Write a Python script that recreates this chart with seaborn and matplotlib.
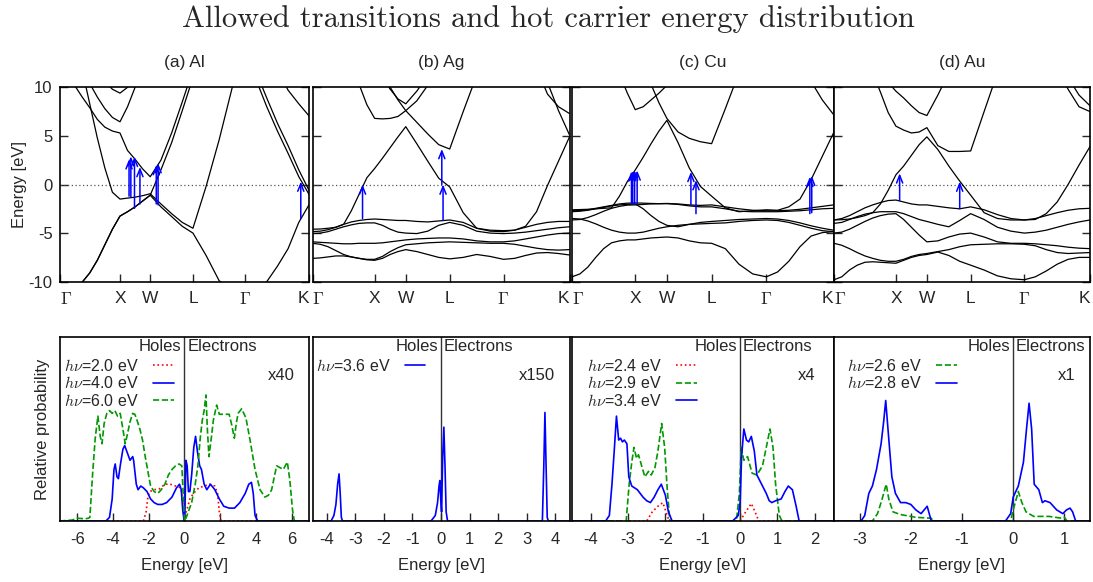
import matplotlib
matplotlib.use("Agg")
import matplotlib.pyplot as plt
import numpy as np
import pandas as pd
import seaborn as sns

sns.set_style("ticks")
plt.rcParams["font.family"] = ["Liberation Sans", "DejaVu Sans"]
plt.rcParams["mathtext.fontset"] = "cm"
plt.rcParams["axes.unicode_minus"] = False

# ---------------------------------------------------------------- k path
# Gamma-X-W-L-Gamma-K path length in units of 2*pi/a
k_path = [0.0, 0.125, 0.25, 0.375, 0.5, 0.625, 0.75, 0.875, 1.0,
          1.125, 1.25, 1.375, 1.5,
          1.677, 1.854, 2.03, 2.207,
          2.424, 2.64, 2.857, 3.073,
          3.25, 3.427, 3.604, 3.78, 3.957, 4.134]
sym_pos = [0.0, 1.0, 1.5, 2.207, 3.073, 4.134]
sym_labels = [r"$\Gamma$", "X", "W", "L", r"$\Gamma$", "K"]

# ---------------------------------------------------------------- Al bands (eV)
al_b1 = [-11.2, -11.05, -10.7, -10.05, -9.1, -7.8, -6.2, -4.6, -3.25,
         -2.8, -2.3, -1.7, -1.1, -2.3, -3.3, -4.3, -5.0,
         -7.3, -9.9, -10.9, -11.2, -10.9, -10.0, -8.4, -6.6, -3.9, -2.0]
al_b2 = [25, 20, 15.5, 11.8, 8.3, 4.8, 1.7, -0.8, -1.5,
         -1.4, -1.3, -1.15, -0.95, -2.0, -3.0, -3.9, -4.5,
         -0.2, 4.6, 10.0, 16.3, 16.3, 15, 14, 13, 12.5, 12]
al_b3 = [12.5, 11.6, 10.2, 9.0, 7.9, 6.7, 5.9, 5.5, 5.3,
         3.5, 2.6, 1.6, 0.8, 2.5, 5.3, 8.5, 11.8,
         13.5, 15.5, 16.3, 16.3, 10.8, 8.0, 5.5, 3.2, 0.8, -1.1]
al_b4 = [16.3, 15, 13.5, 12, 10.4, 9.0, 7.8, 6.9, 6.45,
         8.0, 10.0, 12, 13, 13, 13.5, 14, 14,
         14.5, 15, 16, 16.3, 15, 13.5, 11.8, 9.7, 8.3, 7.0]
al_b5 = [16.3, 15.5, 14.5, 13.5, 12.5, 11.5, 10.6, 9.8, 9.4,
         10.0, 11.2, 12.5, 13.5, 14, 14.5, 15, 15,
         15.5, 16, 16.3, 16.3, 11.6, 8.9, 6.3, 4.0, 1.5, -0.7]
al_b6 = [-11.2, -11.05, -10.7, -10.05, -9.1, -7.8, -6.2, -4.6, -3.25,
         -2.8, -2.3, -1.7, -1.1, 1.5, 4.3, 7.6, 11.0,
         13, 15, 16, 16.3, 16.3, 16, 15, 14.5, 14, 13.5]

# ---------------------------------------------------------------- Ag bands (eV)
ag_s = [-4.6, -4.58, -4.5, -4.4, -4.1, -2.7, -1.0, 0.7, 1.65,
        2.7, 3.8, 4.9, 5.95, 4.2, 2.4, 0.65, -0.25,
        -2.9, -4.5, -4.7, -4.75, -4.7, -4.3, -2.8, -0.1, 2.4, 4.9]
ag_d1 = [-4.85, -4.8, -4.65, -4.4, -4.1, -3.85, -3.7, -3.6, -3.55,
         -3.6, -3.65, -3.7, -3.7, -3.8, -3.85, -3.75, -3.65,
         -3.9, -4.5, -4.8, -4.85, -4.7, -4.4, -4.1, -3.9, -3.8, -3.8]
ag_d2 = [-5.05, -5.0, -4.85, -4.6, -4.35, -4.15, -4.0, -3.95, -3.95,
         -4.2, -4.6, -4.9, -5.0, -5.05, -4.8, -4.2, -3.9,
         -4.2, -4.8, -5.0, -5.05, -5.0, -4.9, -4.75, -4.6, -4.45, -4.35]
ag_d3 = [-5.9, -5.95, -6.0, -6.05, -6.1, -6.1, -6.05, -6.05, -6.05,
         -6.0, -5.9, -5.8, -5.7, -5.6, -5.55, -5.5, -5.5,
         -5.6, -5.8, -5.9, -5.9, -5.8, -5.6, -5.4, -5.2, -5.05, -5.0]
ag_d4 = [-6.05, -6.15, -6.4, -6.8, -7.2, -7.45, -7.6, -7.7, -7.7,
         -7.4, -6.9, -6.5, -6.2, -6.1, -6.0, -5.95, -5.9,
         -5.95, -6.0, -6.05, -6.05, -6.15, -6.35, -6.55, -6.7, -6.75, -6.7]
ag_d5 = [-7.6, -7.55, -7.45, -7.35, -7.35, -7.45, -7.6, -7.75, -7.8,
         -7.6, -7.2, -6.9, -6.7, -6.9, -7.2, -7.5, -7.65,
         -7.5, -7.2, -7.4, -7.7, -7.6, -7.3, -7.05, -7.0, -7.1, -7.25]
ag_u1 = [20, 19.5, 19, 18.5, 18, 17, 16, 15, 14,
         11.8, 10.0, 8.7, 7.6, 6.4, 5.2, 4.1, 3.65,
         7.5, 11.2, 14, 16, 16, 16, 16, 16, 16, 16]
ag_u2 = [16, 15.8, 15.5, 15, 14, 12.5, 10.3, 8.2, 6.8,
         6.75, 6.8, 7.0, 7.6, 8.6, 10.2, 12, 13,
         14, 15, 16, 16, 16, 16, 16, 16, 16, 16]
ag_u3 = [16, 16, 16, 16, 16, 15, 14, 13, 12,
         11, 9.8, 8.8, 8.3, 9.6, 11.2, 12.5, 13,
         14, 15, 16, 16, 16, 16, 16, 16, 16, 16]
ag_u4 = [16] * 21 + [16, 14.5, 12, 9.3, 8.0, 7.3]
ag_u5 = [16] * 21 + [16, 15, 13, 10.5, 7.6, 5.1]

# ---------------------------------------------------------------- Cu bands (eV)
cu_s = [-2.6, -2.58, -2.55, -2.5, -2.45, -2.4, -1.2, 0.3, 1.5,
        2.8, 4.2, 5.5, 6.6, 4.3, 1.7, -0.2, -1.2,
        -2.4, -2.8, -2.7, -2.6, -2.65, -2.3, -1.5, 0.5, 2.9, 5.3]
cu_low = [-9.5, -9.2, -8.5, -7.5, -6.6, -6.0, -5.8, -5.7, -5.7,
          -5.6, -5.5, -5.45, -5.4, -5.5, -5.8, -6.0, -6.05,
          -6.6, -8.2, -9.2, -9.5, -9.0, -7.9, -6.4, -5.3, -4.95, -4.85]
cu_d1 = [-2.7, -2.68, -2.6, -2.45, -2.3, -2.15, -2.0, -1.92, -1.9,
         -1.92, -1.95, -1.97, -1.95, -2.0, -2.1, -2.15, -2.1,
         -2.3, -2.5, -2.65, -2.7, -2.7, -2.65, -2.55, -2.4, -2.25, -2.1]
cu_d2 = [-2.8, -2.75, -2.65, -2.5, -2.35, -2.2, -2.1, -2.05, -2.0,
         -2.5, -3.2, -3.8, -4.2, -4.35, -4.1, -3.9, -3.8,
         -3.7, -3.6, -3.55, -3.5, -3.55, -3.7, -3.95, -4.25, -4.5, -4.7]
cu_d3 = [-3.5, -3.55, -3.75, -4.05, -4.4, -4.7, -4.9, -5.0, -5.0,
         -4.9, -4.7, -4.5, -4.35, -4.2, -4.1, -4.05, -4.0,
         -3.95, -3.8, -3.7, -3.65, -3.7, -3.9, -4.2, -4.5, -4.75, -4.85]
cu_d4 = [-3.65, -3.6, -3.4, -3.1, -2.75, -2.45, -2.25, -2.12, -2.1,
         -2.05, -2.0, -1.98, -1.97, -2.05, -2.2, -2.3, -2.3,
         -2.5, -2.75, -2.8, -2.8, -2.8, -2.75, -2.7, -2.6, -2.5, -2.45]
cu_u1 = [16, 15.8, 15.5, 15, 14.2, 13, 11.4, 9.4, 7.7,
         8.0, 8.7, 9.4, 10.2, 11.5, 12.5, 13.5, 14,
         15, 15.5, 16, 16, 16, 16, 16, 16, 16, 16]
cu_u2 = [16, 16, 16, 16, 16, 16, 15.5, 15, 14.5,
         12.3, 10.3, 8.4, 6.8, 5.4, 4.75, 4.4, 4.2,
         7.8, 11.5, 14, 16, 16, 16, 16, 16, 16, 16]
cu_u3 = [16] * 21 + [16, 16, 13.5, 10.6, 8.7, 7.2]

# ---------------------------------------------------------------- Au bands (eV)
au_s = [-3.65, -3.62, -3.55, -3.4, -3.2, -2.9, -2.0, -0.6, 1.0,
        1.9, 3.0, 4.1, 4.9, 3.6, 1.9, 0.35, -1.1,
        -2.9, -3.5, -3.65, -3.65, -3.6, -3.0, -1.8, 0.0, 2.0, 3.9]
au_low = [-9.8, -9.5, -8.8, -8.3, -8.0, -7.95, -8.0, -8.05, -8.1,
          -7.8, -7.5, -7.3, -7.2, -6.95, -7.3, -7.9, -8.3,
          -8.8, -9.4, -9.7, -9.8, -9.5, -8.9, -8.2, -7.7, -7.5, -7.5]
au_d1 = [-3.65, -3.5, -3.2, -2.8, -2.4, -2.1, -1.85, -1.65, -1.6,
         -1.8, -2.0, -2.1, -2.1, -2.25, -2.4, -2.5, -2.3,
         -2.6, -3.1, -3.5, -3.65, -3.5, -3.2, -2.9, -2.65, -2.5, -2.45]
au_d2 = [-4.0, -3.9, -3.6, -3.3, -3.05, -2.9, -2.8, -2.8, -2.8,
         -3.0, -3.3, -3.6, -3.8, -4.1, -4.35, -3.7, -3.0,
         -3.6, -4.4, -4.8, -5.0, -4.9, -4.7, -4.4, -4.1, -3.85, -3.65]
au_d3 = [-5.0, -4.9, -4.6, -4.2, -3.8, -3.45, -3.2, -3.05, -3.0,
         -3.6, -4.4, -5.2, -5.9, -5.8, -5.4, -5.1, -5.0,
         -5.4, -5.9, -6.05, -6.05, -6.1, -6.2, -6.3, -6.45, -6.55, -6.6]
au_d4 = [-6.05, -6.25, -6.6, -7.0, -7.35, -7.6, -7.8, -7.9, -7.9,
         -7.7, -7.4, -7.2, -7.1, -6.9, -6.7, -6.4, -6.2,
         -6.15, -6.1, -6.1, -6.15, -6.3, -6.7, -7.0, -7.1, -7.05, -7.0]
au_u1 = [16, 16, 16, 16, 15, 11.5, 9.5, 7.4, 6.0,
         5.6, 5.3, 5.4, 5.85, 4.0, 3.4, 3.4, 3.45,
         7.5, 11.5, 14, 16, 16, 16, 16, 16, 16, 16]
au_u2 = [16, 16, 16, 16, 16, 14, 12, 10.5, 9.6,
         8.9, 8.1, 7.4, 7.1, 9.2, 11.5, 13, 14,
         15, 16, 16, 16, 16, 16, 16, 16, 16, 16]
au_u3 = [16] * 21 + [16, 14, 12, 9.8, 8.0, 7.5]
au_u4 = [16] * 21 + [16, 15, 13.5, 11.0, 9.2, 8.1]

# ---------------------------------------------------------------- allowed transitions (k, E_from, E_to)
al_arrow_k = [1.15, 1.18, 1.24, 1.33, 1.60, 1.63, 3.99]
al_arrow_from = [-1.2, -1.25, -2.45, -2.0, -2.0, -2.1, -3.5]
al_arrow_to = [2.6, 2.9, 2.85, 1.8, 2.0, 2.2, 0.3]
ag_arrow_k = [0.805, 2.10, 2.08]
ag_arrow_from = [-3.5, -3.7, 0.0]
ag_arrow_to = [0.0, 0.0, 3.65]
cu_arrow_k = [0.94, 0.96, 0.99, 1.03, 1.88, 1.96, 3.76, 3.79]
cu_arrow_from = [-1.95, -1.95, -1.95, -1.95, -2.1, -3.0, -3.0, -2.9]
cu_arrow_to = [1.35, 1.4, 1.45, 1.45, 1.3, 0.45, 0.8, 0.9]
au_arrow_k = [1.06, 2.03]
au_arrow_from = [-1.65, -2.5]
au_arrow_to = [1.15, 0.3]

# ---------------------------------------------------------------- hot carrier distributions
al_e_20 = [-7, -2.3, -2.15, -2.05, -1.95, -1.7, -1.4, -1.1, -0.8, -0.5, -0.2, -0.1, 0.0,
           0.1, 0.3, 0.5, 0.8, 1.1, 1.4, 1.7, 1.85, 1.95, 2.05, 7]
al_p_20 = [0, 0, 0.05, 0.13, 0.16, 0.17, 0.175, 0.2, 0.2, 0.19, 0.18, 0.1, 0.0,
           0.05, 0.12, 0.15, 0.18, 0.19, 0.2, 0.19, 0.15, 0.05, 0.0, 0]
al_e_40 = [-7, -4.4, -4.2, -4.05, -3.95, -3.88, -3.78, -3.7, -3.6, -3.45, -3.35, -3.2,
           -3.05, -2.9, -2.85, -2.7, -2.6, -2.45, -2.3, -2.1, -1.9, -1.7, -1.5, -1.25,
           -1.0, -0.7, -0.45, -0.28, -0.18, -0.1, -0.02, 0.02, 0.08, 0.15, 0.22, 0.3,
           0.4, 0.52, 0.62, 0.72, 0.85, 0.95, 1.1, 1.25, 1.45, 1.7, 1.95, 2.2, 2.5,
           2.8, 3.1, 3.4, 3.6, 3.75, 3.85, 3.95, 4.1, 7]
al_p_40 = [0, 0, 0.02, 0.12, 0.28, 0.31, 0.24, 0.23, 0.3, 0.39, 0.41, 0.37,
           0.33, 0.35, 0.33, 0.2, 0.17, 0.19, 0.18, 0.16, 0.12, 0.1, 0.09, 0.09,
           0.1, 0.13, 0.18, 0.2, 0.17, 0.06, 0.0, 0.03, 0.33, 0.3, 0.16, 0.16,
           0.25, 0.4, 0.46, 0.38, 0.3, 0.28, 0.2, 0.17, 0.2, 0.17, 0.12, 0.08, 0.07,
           0.07, 0.1, 0.15, 0.2, 0.21, 0.15, 0.03, 0.0, 0]
al_e_60 = [-7, -6.3, -6.0, -5.57, -5.38, -5.3, -5.15, -5.0, -4.85, -4.72, -4.62, -4.5,
           -4.35, -4.2, -4.05, -3.9, -3.75, -3.6, -3.45, -3.32, -3.2, -3.05, -2.9,
           -2.78, -2.65, -2.5, -2.35, -2.2, -2.05, -1.9, -1.7, -1.5, -1.3, -1.1, -0.9,
           -0.7, -0.5, -0.3, -0.15, -0.05, 0.0, 0.1, 0.4, 0.6, 0.75, 0.88, 1.0, 1.1,
           1.2, 1.28, 1.37, 1.5, 1.62, 1.8, 1.95, 2.2, 2.5, 2.65, 2.79, 2.9, 3.0,
           3.2, 3.44, 3.67, 3.95, 4.23, 4.5, 4.7, 4.88, 5.05, 5.16, 5.35, 5.53, 5.76,
           5.9, 6.05, 6.15, 7]
al_p_60 = [0, 0.005, 0.015, 0.012, 0.015, 0.02, 0.25, 0.45, 0.57, 0.46, 0.42, 0.53,
           0.585, 0.6, 0.585, 0.6, 0.57, 0.585, 0.5, 0.42, 0.47, 0.54, 0.585,
           0.58, 0.545, 0.5, 0.44, 0.35, 0.27, 0.19, 0.16, 0.15, 0.17, 0.2, 0.25,
           0.28, 0.3, 0.31, 0.3, 0.1, 0.0, 0.02, 0.1, 0.2, 0.3, 0.45, 0.55, 0.6,
           0.685, 0.5, 0.35, 0.45, 0.55, 0.63, 0.58, 0.58, 0.58, 0.52, 0.45, 0.53, 0.585,
           0.61, 0.56, 0.44, 0.28, 0.17, 0.13, 0.14, 0.17, 0.25, 0.3, 0.29, 0.28, 0.32,
           0.22, 0.06, 0.0, 0]

ag_e_36 = [-4.5, -3.85, -3.75, -3.68, -3.62, -3.57, -3.53, -3.49, -3.45, -0.35, -0.2,
           -0.12, -0.07, -0.04, -0.01, 0.02, 0.06, 0.1, 0.14, 0.18, 0.23, 3.55, 3.6,
           3.64, 3.68, 3.72, 3.76, 4.5]
ag_p_36 = [0, 0, 0.03, 0.09, 0.2, 0.256, 0.15, 0.02, 0, 0, 0.03,
           0.1, 0.19, 0.22, 0.12, 0.05, 0.35, 0.51, 0.3, 0.05, 0.0, 0, 0.3,
           0.59, 0.3, 0.02, 0, 0]

cu_e_24 = [-4.5, -2.5, -2.35, -2.2, -2.07, -2.0, -1.9, 0.0, 0.15, 0.3, 0.4, 0.5, 2.5]
cu_p_24 = [0, 0, 0.05, 0.08, 0.1, 0.06, 0.0, 0.0, 0.05, 0.095, 0.05, 0.0, 0]
cu_e_29 = [-4.5, -3.05, -2.97, -2.9, -2.84, -2.77, -2.72, -2.65, -2.55, -2.45, -2.38,
           -2.28, -2.2, -2.1, -2.02, -1.95, -1.88, -0.1, -0.02, 0.03, 0.1, 0.2, 0.32,
           0.45, 0.6, 0.72, 0.8, 0.88, 0.95, 1.05, 1.12, 2.5]
cu_p_29 = [0, 0, 0.2, 0.32, 0.4, 0.34, 0.36, 0.31, 0.24, 0.27, 0.25,
           0.29, 0.38, 0.53, 0.4, 0.17, 0.0, 0.0, 0.15, 0.4, 0.33, 0.35, 0.26,
           0.25, 0.3, 0.42, 0.5, 0.4, 0.2, 0.03, 0.0, 0]
cu_e_34 = [-4.5, -3.6, -3.5, -3.43, -3.37, -3.31, -3.25, -3.2, -3.15, -3.1, -3.03,
           -2.98, -2.9, -2.75, -2.6, -2.5, -2.4, -2.3, -2.2, -2.11, -2.0, -1.92, -1.82,
           -0.2, -0.05, 0.0, 0.04, 0.1, 0.17, 0.23, 0.3, 0.38, 0.45, 0.55, 0.7, 0.78,
           0.85, 0.95, 1.1, 1.2, 1.29, 1.4, 1.5, 1.58, 2.5]
cu_p_34 = [0, 0, 0.03, 0.2, 0.38, 0.57, 0.44, 0.45, 0.43, 0.44, 0.42,
           0.24, 0.19, 0.17, 0.13, 0.11, 0.1, 0.13, 0.17, 0.2, 0.14, 0.05, 0.0,
           0.0, 0.03, 0.1, 0.35, 0.5, 0.44, 0.43, 0.46, 0.38, 0.25, 0.21, 0.15, 0.11,
           0.1, 0.11, 0.12, 0.16, 0.19, 0.17, 0.08, 0.0, 0]

au_e_26 = [-3.5, -2.75, -2.65, -2.57, -2.48, -2.43, -2.35, -2.2, -1.9, -1.6, -1.57,
           -0.05, 0.0, 0.1, 0.17, 0.25, 0.4, 0.7, 0.95, 1.0, 1.05, 1.5]
au_p_26 = [0, 0, 0.04, 0.11, 0.2, 0.12, 0.05, 0.035, 0.02, 0.015, 0.0,
           0.0, 0.06, 0.16, 0.1, 0.05, 0.025, 0.025, 0.015, 0.02, 0.0, 0]
au_e_28 = [-3.5, -2.97, -2.9, -2.82, -2.75, -2.67, -2.58, -2.53, -2.49, -2.44, -2.37,
           -2.3, -2.2, -2.1, -2.0, -1.9, -1.8, -1.68, -1.63, -1.6, -0.15, -0.05, 0.0,
           0.1, 0.2, 0.26, 0.31, 0.36, 0.41, 0.5, 0.57, 0.62, 0.72, 0.85, 0.97, 1.04,
           1.11, 1.16, 1.22, 1.5]
au_p_28 = [0, 0, 0.03, 0.15, 0.19, 0.28, 0.42, 0.54, 0.655, 0.48, 0.24,
           0.15, 0.1, 0.1, 0.09, 0.06, 0.04, 0.08, 0.03, 0.0, 0.0, 0.04, 0.13,
           0.19, 0.32, 0.5, 0.64, 0.5, 0.2, 0.17, 0.1, 0.11, 0.1, 0.06, 0.04, 0.06,
           0.07, 0.05, 0.0, 0]

# ---------------------------------------------------------------- panel definitions
RED, BLUE, GREEN = "#ff0000", "#0000ff", "#009900"
panels = [
    dict(title="(a) Al",
         bands=[al_b1, al_b2, al_b3, al_b4, al_b5, al_b6],
         arrows=(al_arrow_k, al_arrow_from, al_arrow_to),
         curves=[(al_e_20, al_p_20, RED, ":", r"$h\nu$=2.0 eV"),
                 (al_e_40, al_p_40, BLUE, "-", r"$h\nu$=4.0 eV"),
                 (al_e_60, al_p_60, GREEN, "--", r"$h\nu$=6.0 eV")],
         xlim=(-7, 7), xticks=[-6, -4, -2, 0, 2, 4, 6], scale="x40", scale_x=0.889,
         leg_x=0.005),
    dict(title="(b) Ag",
         bands=[ag_d5, ag_d4, ag_d3, ag_d2, ag_d1, ag_s, ag_u1, ag_u2, ag_u3, ag_u4, ag_u5],
         arrows=(ag_arrow_k, ag_arrow_from, ag_arrow_to),
         curves=[(ag_e_36, ag_p_36, BLUE, "-", r"$h\nu$=3.6 eV")],
         xlim=(-4.5, 4.5), xticks=[-4, -3, -2, -1, 0, 1, 2, 3, 4], scale="x150",
         scale_x=0.872, leg_x=0.0),
    dict(title="(c) Cu",
         bands=[cu_low, cu_d3, cu_d2, cu_d4, cu_d1, cu_s, cu_u1, cu_u2, cu_u3],
         arrows=(cu_arrow_k, cu_arrow_from, cu_arrow_to),
         curves=[(cu_e_24, cu_p_24, RED, ":", r"$h\nu$=2.4 eV"),
                 (cu_e_29, cu_p_29, GREEN, "--", r"$h\nu$=2.9 eV"),
                 (cu_e_34, cu_p_34, BLUE, "-", r"$h\nu$=3.4 eV")],
         xlim=(-4.5, 2.5), xticks=[-4, -3, -2, -1, 0, 1, 2], scale="x4", scale_x=0.897,
         leg_x=0.045),
    dict(title="(d) Au",
         bands=[au_low, au_d4, au_d3, au_d2, au_d1, au_s, au_u1, au_u2, au_u3, au_u4],
         arrows=(au_arrow_k, au_arrow_from, au_arrow_to),
         curves=[(au_e_26, au_p_26, GREEN, "--", r"$h\nu$=2.6 eV"),
                 (au_e_28, au_p_28, BLUE, "-", r"$h\nu$=2.8 eV")],
         xlim=(-3.5, 1.5), xticks=[-3, -2, -1, 0, 1], scale="x1", scale_x=0.909,
         leg_x=0.04),
]

# ---------------------------------------------------------------- figure
W, H = 1093, 582
fig = plt.figure(figsize=(W / 100, H / 100), dpi=100)
cols = [(59.5, 309.5), (312.5, 569.5), (572, 833.5), (834, 1090)]
top_rect = (87.3, 281.7)
bot_rect = (337.0, 521.0)

fig.text(548 / W, 1 - 27 / H, "Allowed transitions and hot carrier energy distribution",
         ha="center", va="baseline", fontsize=22, family="cmr10")

for i, (p, (x0, x1)) in enumerate(zip(panels, cols)):
    # ---------------- band structure
    ax = fig.add_axes([x0 / W, 1 - top_rect[1] / H, (x1 - x0) / W,
                       (top_rect[1] - top_rect[0]) / H])
    rows = []
    for b, band in enumerate(p["bands"]):
        for kk, ee in zip(k_path, band):
            rows.append((kk, ee, b))
    df = pd.DataFrame(rows, columns=["k", "E", "band"])
    sns.lineplot(data=df, x="k", y="E", units="band", estimator=None, sort=False,
                 color="black", lw=0.9, ax=ax, legend=False)
    ax.axhline(0, color="#555555", lw=0.9, ls=(0, (1, 2)), zorder=1)
    for kk, e0, e1 in zip(*p["arrows"]):
        ax.annotate("", xy=(kk, e1), xytext=(kk, e0),
                    arrowprops=dict(arrowstyle="->,head_length=0.55,head_width=0.22",
                                    color=BLUE, lw=1.1, shrinkA=0, shrinkB=0),
                    zorder=4)
    ax.set_xlim(0, k_path[-1])
    ax.set_ylim(-10, 10)
    ax.set_xticks(sym_pos)
    ax.set_xticklabels(sym_labels, fontsize=12.5)
    # keep the path-end labels inside the frame so neighbouring panels do not collide
    xl = ax.get_xticklabels()
    xl[0].set_horizontalalignment("left")
    xl[-1].set_horizontalalignment("right")
    ax.set_yticks([-10, -5, 0, 5, 10])
    ax.tick_params(axis="x", direction="in", length=6, width=1, pad=7, top=False)
    ax.tick_params(axis="y", direction="in", length=6, width=1, left=True, right=True,
                   labelsize=12, pad=5)
    ax.set_xlabel("")
    ax.set_ylabel("")
    if i > 0:
        ax.tick_params(axis="y", labelleft=False)
    for s in ax.spines.values():
        s.set_linewidth(1.2)
        s.set_color("black")
    fig.text((x0 + x1) / 2 / W, 1 - 62 / H, p["title"], ha="center", va="center",
             fontsize=12.5)

    # ---------------- hot carrier distribution
    bx = fig.add_axes([x0 / W, 1 - bot_rect[1] / H, (x1 - x0) / W,
                       (bot_rect[1] - bot_rect[0]) / H])
    for e, pr, c, ls, lab in p["curves"]:
        sns.lineplot(x=e, y=pr, color=c, lw=1.2, linestyle=ls, ax=bx, label=lab,
                     sort=False, estimator=None)
    bx.axvline(0, color="#333333", lw=1.0, zorder=0)
    bx.set_xlim(*p["xlim"])
    bx.set_ylim(0, 1)
    bx.set_xticks(p["xticks"])
    bx.set_yticks([])
    bx.tick_params(axis="x", direction="in", length=6, width=1, pad=8, labelsize=12)
    bx.set_xlabel("Energy [eV]", fontsize=12, labelpad=8)
    bx.set_ylabel("")
    for s in bx.spines.values():
        s.set_linewidth(1.2)
        s.set_color("black")
    bx.annotate("Holes", xy=(0, 0.947), xycoords=("data", "axes fraction"),
                xytext=(-2, 0), textcoords="offset points", ha="right", va="center",
                fontsize=12)
    bx.annotate("Electrons", xy=(0, 0.947), xycoords=("data", "axes fraction"),
                xytext=(2, 0), textcoords="offset points", ha="left", va="center",
                fontsize=12)
    bx.text(p["scale_x"], 0.79, p["scale"], transform=bx.transAxes, ha="center",
            va="center", fontsize=12)
    h, l = bx.get_legend_handles_labels()
    bx.legend(h, l, loc="upper left", bbox_to_anchor=(p["leg_x"], 0.905),
              markerfirst=False, frameon=False, handlelength=1.3, handletextpad=0.9,
              labelspacing=0.1, borderaxespad=0, borderpad=0.2, fontsize=11.5)

fig.text(20 / W, 1 - 184.5 / H, "Energy [eV]", rotation=90, ha="center", va="center",
         fontsize=12)
fig.text(43 / W, 1 - 429 / H, "Relative probability", rotation=90, ha="center",
         va="center", fontsize=12)

fig.savefig("out.png", dpi=100)
